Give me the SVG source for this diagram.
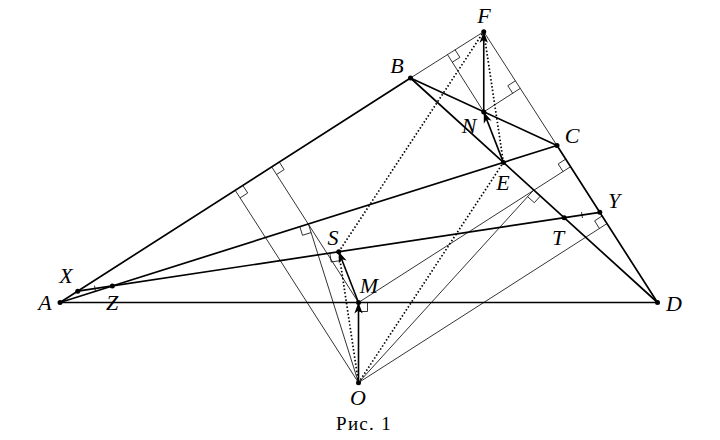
<svg xmlns="http://www.w3.org/2000/svg" width="720" height="440" viewBox="0 0 720 440">
<style>
.thick{stroke:#000;stroke-width:1.7;fill:none;stroke-linecap:round}
.thin{stroke:#000;stroke-width:0.8;fill:none}
.dot{stroke:#000;stroke-width:1.7;fill:none;stroke-dasharray:1.5 2.1}
.arrow{stroke:#000;stroke-width:1.6;fill:none;marker-end:url(#arr)}
.ra{stroke:#000;stroke-width:0.8;fill:none}
.tick{stroke:#000;stroke-width:0.8}
.pt{fill:#000}
.lbl{font-family:"Liberation Serif","Times New Roman",serif;font-style:italic;font-size:22px;text-anchor:middle;fill:#000}
.cap{font-family:"Liberation Serif","Times New Roman",serif;font-size:19px;letter-spacing:1.3px;text-anchor:middle;fill:#000}
</style>
<defs>
<marker id="arr" markerUnits="userSpaceOnUse" markerWidth="14" markerHeight="10" viewBox="-12 -5 14 10" refX="0" refY="0" orient="auto">
<path d="M0,0 L-11,-4.2 L-8,0 L-11,4.2 Z" fill="#000"/>
</marker>
</defs>
<rect width="720" height="440" fill="#fff"/>
<g id="connectors">
<line class="thin" x1="358.5" y1="382.7" x2="235.2" y2="190.3"/>
<line class="thin" x1="358.5" y1="382.7" x2="308.4" y2="224.0"/>
<line class="thin" x1="358.5" y1="382.7" x2="533.7" y2="190.0"/>
<line class="thin" x1="358.5" y1="382.7" x2="607.0" y2="223.6"/>
<line class="thin" x1="358.5" y1="302.5" x2="271.7" y2="166.9"/>
<line class="thin" x1="358.5" y1="302.5" x2="570.6" y2="166.7"/>
<line class="thin" x1="483.75" y1="111.9" x2="447.5" y2="54.6"/>
<line class="thin" x1="483.75" y1="111.9" x2="520.25" y2="88.4"/>
<line class="thin" x1="410.5" y1="78" x2="483.75" y2="31.7"/>
<line class="thin" x1="483.75" y1="31.7" x2="557" y2="145.5"/>
<path class="ra" d="M242.8,185.4 L247.7,193.0 L240.1,197.9"/>
<path class="ra" d="M279.3,162.0 L284.1,169.6 L276.6,174.5"/>
<path class="ra" d="M299.8,226.7 L302.5,235.3 L311.1,232.6"/>
<path class="ra" d="M329.85,253.1 L331.2,262.0 L340.1,260.65"/>
<path class="ra" d="M367.5,302.5 L367.5,311.5 L358.5,311.5"/>
<path class="ra" d="M540.4,196.05 L534.3,202.7 L527.6,196.7"/>
<path class="ra" d="M565.75,159.1 L558.2,163.95 L563.0,171.55"/>
<path class="ra" d="M602.15,216.0 L594.6,220.85 L599.4,228.45"/>
<path class="ra" d="M455.1,49.8 L459.9,57.4 L452.3,62.2"/>
<path class="ra" d="M515.4,80.8 L507.8,85.7 L512.7,93.3"/>
<line class="dot" x1="358.5" y1="382.7" x2="338.75" y2="251.75"/>
<line class="dot" x1="358.5" y1="382.7" x2="503.4" y2="162.4"/>
<line class="dot" x1="338.75" y1="251.75" x2="483.75" y2="31.7"/>
<line class="dot" x1="503.4" y1="162.4" x2="483.75" y2="31.7"/>
<line class="thick" x1="60" y1="302.5" x2="410.5" y2="78"/>
<line class="thick" x1="410.5" y1="78" x2="557" y2="145.5"/>
<line class="thick" x1="557" y1="145.5" x2="657.5" y2="302.5"/>
<line class="thick" x1="60" y1="302.5" x2="657.5" y2="302.5"/>
<line class="thick" x1="410.5" y1="78" x2="657.5" y2="302.5"/>
<line class="thick" x1="60" y1="302.5" x2="557" y2="145.5"/>
<line class="thick" x1="77.7" y1="291.2" x2="599.8" y2="212.3"/>
<line class="tick" x1="94.55" y1="285.6" x2="95.45" y2="291.6"/>
<line class="tick" x1="581.55" y1="212.0" x2="582.45" y2="218.0"/>
<line class="arrow" x1="358.5" y1="382.7" x2="358.5" y2="302.5"/>
<line class="arrow" x1="358.5" y1="302.5" x2="338.75" y2="251.75"/>
<line class="arrow" x1="503.4" y1="162.4" x2="483.75" y2="111.9"/>
<line class="arrow" x1="483.75" y1="111.9" x2="483.75" y2="31.7"/>
</g>
<g id="A"><circle class="pt" cx="60" cy="302.5" r="2.5"/><text class="lbl" x="45" y="310">A</text></g>
<g id="B"><circle class="pt" cx="410.5" cy="78" r="2.5"/><text class="lbl" x="397" y="73">B</text></g>
<g id="C"><circle class="pt" cx="557" cy="145.5" r="2.5"/><text class="lbl" x="572" y="143">C</text></g>
<g id="D"><circle class="pt" cx="657.5" cy="302.5" r="2.5"/><text class="lbl" x="674" y="311">D</text></g>
<g id="E"><circle class="pt" cx="503.4" cy="162.4" r="2.5"/><text class="lbl" x="503" y="190">E</text></g>
<g id="F"><circle class="pt" cx="483.75" cy="31.7" r="2.5"/><text class="lbl" x="484" y="23">F</text></g>
<g id="N"><circle class="pt" cx="483.75" cy="111.9" r="2.5"/><text class="lbl" x="469" y="133">N</text></g>
<g id="X"><circle class="pt" cx="77.7" cy="291.2" r="2.5"/><text class="lbl" x="66" y="283">X</text></g>
<g id="Z"><circle class="pt" cx="112.3" cy="286.0" r="2.5"/><text class="lbl" x="112" y="310">Z</text></g>
<g id="Y"><circle class="pt" cx="599.8" cy="212.3" r="2.5"/><text class="lbl" x="614" y="208">Y</text></g>
<g id="T"><circle class="pt" cx="564.2" cy="217.7" r="2.5"/><text class="lbl" x="558" y="245">T</text></g>
<g id="S"><circle class="pt" cx="338.75" cy="251.75" r="2.5"/><text class="lbl" x="333" y="245">S</text></g>
<g id="M"><circle class="pt" cx="358.5" cy="302.5" r="2.5"/><text class="lbl" x="369" y="293">M</text></g>
<g id="O"><circle class="pt" cx="358.5" cy="382.7" r="2.5"/><text class="lbl" x="358" y="405">O</text></g>
<g id="caption"><text class="cap" x="364" y="430">Рис. 1</text></g>
</svg>
